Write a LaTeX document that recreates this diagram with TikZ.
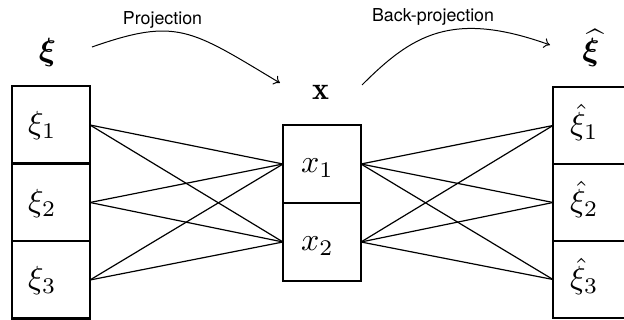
\documentclass[tikz,border=0pt]{standalone}
\usepackage{amsmath}
\usepackage{bm}
\usepackage{graphicx}
\usepackage{fontspec}
\newfontfamily\labelfont{TeX Gyre Heros}
\usetikzlibrary{arrows.meta}
\newcommand\mbig[1]{\scalebox{3.2}{#1}}
\begin{document}
\begin{tikzpicture}[x=1pt,y=-1pt,
  cell/.style={draw, line width=2.5pt, minimum width=78pt, minimum height=77.5pt, inner sep=0pt, outer sep=0pt},
  math/.style={inner sep=0pt, anchor=base west},
  head/.style={inner sep=0pt, anchor=base},
  conn/.style={line width=1.2pt},
  flow/.style={line width=1pt, -{To[length=6pt,width=10pt]}},
  captext/.style={font=\labelfont\fontsize{17.8}{20}\selectfont, inner sep=0pt, anchor=base}]
\useasboundingbox (0,0) rectangle (624,320);
\clip (0,0) rectangle (624,320);
% left column
\node[cell] (l1) at (51,125) {};
\node[cell] (l2) at (51,202.5) {};
\node[cell] (l3) at (51,280) {};
% middle column
\node[cell, minimum height=78pt] (m1) at (322,164) {};
\node[cell, minimum height=78pt] (m2) at (322,242) {};
% right column
\node[cell, minimum height=77pt] (r1) at (592,125.5) {};
\node[cell, minimum height=77pt] (r2) at (592,202.5) {};
\node[cell, minimum height=77pt] (r3) at (592,279.5) {};
% cell texts
\node[math] (t1) at (28,134) {\mbig{$\xi_1$}};
\node[math] (t2) at (28,211.5) {\mbig{$\xi_2$}};
\node[math] (t3) at (28,289) {\mbig{$\xi_3$}};
\node[math] (u1) at (301,173) {\mbig{$x_1$}};
\node[math] (u2) at (301,251) {\mbig{$x_2$}};
\node[math] (v1) at (570,135) {\mbig{$\hat{\xi}_1$}};
\node[math] (v2) at (570,212) {\mbig{$\hat{\xi}_2$}};
\node[math] (v3) at (570,289) {\mbig{$\hat{\xi}_3$}};
% headings
\node[head] (hxi) at (47.5,61) {\mbig{$\bm{\xi}$}};
\node[head] (hx) at (320.5,100) {\mbig{$\mathbf{x}$}};
\node[head] (hxh) at (591,61) {\mbig{$\widehat{\bm{\xi}}$}};
% connectors
\foreach \a in {l1,l2,l3}{
  \foreach \b in {m1,m2}{
    \draw[conn] (\a.east) -- (\b.west);
  }
}
\foreach \a in {m1,m2}{
  \foreach \b in {r1,r2,r3}{
    \draw[conn] (\a.east) -- (\b.west);
  }
}
% arrows
\coordinate (p0) at (92,47);
\coordinate (p3) at (280,83);
\coordinate (q0) at (362,85);
\coordinate (q3) at (550,45);
\draw[flow] (p0) .. controls (177,17.25) and (190,29) .. (p3);
\draw[flow] (q0) .. controls (412,35) and (452,9.7) .. (q3);
\node[captext] (c1) at (162.5,25) {Projection};
\node[captext] (c2) at (433,21.7) {Back-projection};
\end{tikzpicture}
\end{document}
